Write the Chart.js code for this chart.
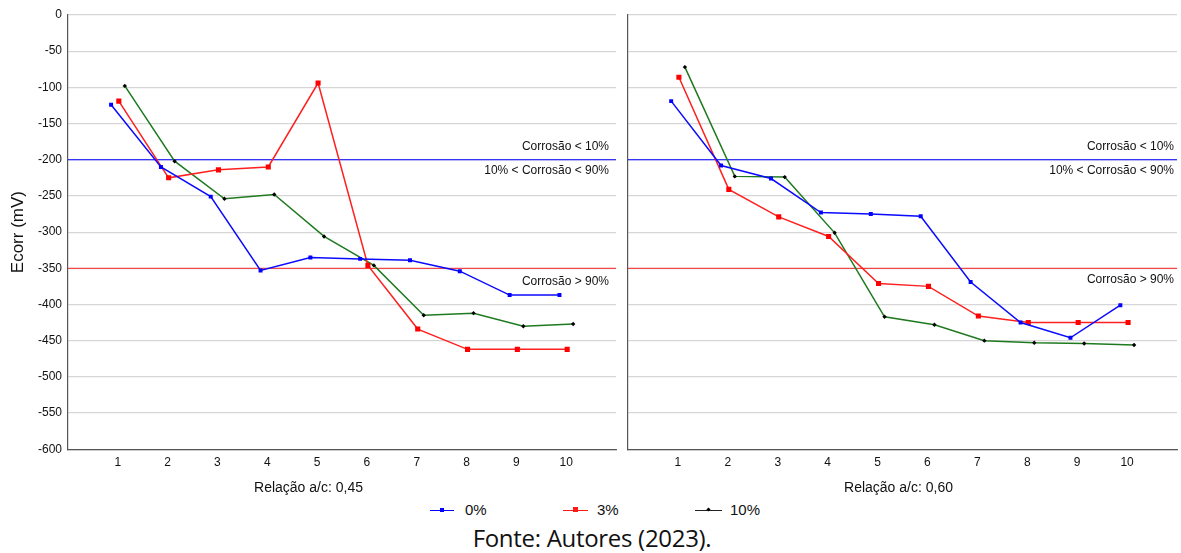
<!DOCTYPE html>
<html>
<head>
<meta charset="utf-8">
<script src="https://cdn.jsdelivr.net/npm/chart.js@4/dist/chart.umd.min.js"></script>
<style>
  html, body { margin: 0; padding: 0; background: #ffffff; }
  body { width: 1181px; height: 553px; position: relative; overflow: hidden; font-family: "Liberation Sans", Arial, sans-serif; }
  #c1 { position: absolute; left: 0; top: 0; }
  #c2 { position: absolute; left: 620px; top: 0; }
  .leg { position: absolute; top: 500px; height: 20px; font-size: 15px; line-height: 20px; color: #111; }
  .leg .ln { position: absolute; top: 10px; height: 1px; }
  .leg .mk { position: absolute; }
  .leg .tx { position: absolute; top: 0; white-space: nowrap; }
  #fonte { position: absolute; left: 0; width: 1184px; top: 526px; line-height: 24px; text-align: center; font-family: "Open Sans", "Noto Sans", sans-serif; font-size: 24px; letter-spacing: -0.3px; color: #111; }
</style>
</head>
<body>
<canvas id="c1" width="620" height="500"></canvas>
<canvas id="c2" width="561" height="500"></canvas>

<div class="leg" style="left:0;width:1181px;">
  <div class="ln" style="left:430px;width:24px;background:#0000ff;"></div>
  <div class="mk" style="left:440px;top:8px;width:4px;height:4px;background:#0000ff;"></div>
  <div class="tx" style="left:465px;">0%</div>
  <div class="ln" style="left:563px;width:25px;background:#ff1a1a;"></div>
  <div class="mk" style="left:573px;top:7px;width:5px;height:5px;background:#ff1a1a;"></div>
  <div class="tx" style="left:597px;">3%</div>
  <div class="ln" style="left:695px;width:27px;background:#222;"></div>
  <div class="mk" style="left:707px;top:8px;width:3px;height:3px;background:#000;transform:rotate(45deg);"></div>
  <div class="tx" style="left:730px;">10%</div>
</div>
<div id="fonte">Fonte: Autores (2023).</div>

<script>
// ---- data ----
const categories = [1, 2, 3, 4, 5, 6, 7, 8, 9, 10];
const yTicks = [0, -50, -100, -150, -200, -250, -300, -350, -400, -450, -500, -550, -600];
const seriesNames = ["0%", "3%", "10%"];
const thresholds = [-200, -350];

// Relação a/c 0,45
const blue045 = [-124, -210, -251, -353, -335, -337, -339, -354, -387, -387];
const red045 = [-119, -225, -214, -210, -94, -346, -434, -462, -462, -462];
const green045 = [-98, -202, -254, -248, -306, -346, -415, -412, -430, -427];

// Relação a/c 0,60
const blue060 = [-119, -208, -226, -273, -275, -278, -369, -425, -446, -401];
const red060 = [-86, -241, -279, -306, -371, -375, -416, -425, -425, -425];
const green060 = [-72, -223, -224, -301, -417, -428, -450, -453, -454, -456];

const xTitles = ["Relação a/c: 0,45", "Relação a/c: 0,60"];
const zoneLabels = ["Corrosão < 10%", "10% < Corrosão < 90%", "Corrosão > 90%"];

// ---- helpers ----
const FONT = "'Liberation Sans', Arial, sans-serif";

function pts(vals, shift) {
  return categories.map((c, i) => ({ x: c + shift, y: vals[i] }));
}

function seriesDatasets(b, r, g) {
  return [
    { label: seriesNames[0], data: pts(b, -0.135), borderColor: "#0a0aff", backgroundColor: "#0a0aff",
      borderWidth: 1.5, pointStyle: "rect", pointRadius: 2.8, pointBorderWidth: 0, pointBackgroundColor: "#0000ff" },
    { label: seriesNames[1], data: pts(r, 0.02), borderColor: "#ff2020", backgroundColor: "#ff1010",
      borderWidth: 1.5, pointStyle: "rect", pointRadius: 3.6, pointBorderWidth: 0, pointBackgroundColor: "#ff0000" },
    { label: seriesNames[2], data: pts(g, 0.14), borderColor: "#1f7a1f", backgroundColor: "#000",
      borderWidth: 1.5, pointStyle: "rectRot", pointRadius: 2.2, pointBorderWidth: 0, pointBackgroundColor: "#000" }
  ];
}

function thresholdDatasets() {
  return [
    { label: "t1", data: [{ x: 0, y: thresholds[0] }, { x: 11, y: thresholds[0] }], borderColor: "#0000ff",
      borderWidth: 1.2, pointRadius: 0, order: 5 },
    { label: "t2", data: [{ x: 0, y: thresholds[1] }, { x: 11, y: thresholds[1] }], borderColor: "#f04848",
      borderWidth: 1.2, pointRadius: 0, order: 5 }
  ];
}

const zonePlugin = {
  id: "zones",
  afterDatasetsDraw(chart, args, opts) {
    const { ctx, chartArea, scales } = chart;
    const y = scales.y;
    ctx.save();
    ctx.font = "12px " + FONT;
    ctx.fillStyle = "#111";
    ctx.textAlign = "right";
    ctx.textBaseline = "middle";
    const items = [
      { t: zoneLabels[0], v: thresholds[0], dy: -13 },
      { t: zoneLabels[1], v: thresholds[0], dy: 11 },
      { t: zoneLabels[2], v: thresholds[1], dy: opts.dy3 }
    ];
    items.forEach(it => {
      ctx.fillText(it.t, chartArea.right - opts.inset, y.getPixelForValue(it.v) + it.dy);
    });
    ctx.restore();
  }
};

function makeChart(id, b, r, g, title, showY, insets) {
  return new Chart(document.getElementById(id), {
    type: "line",
    data: { datasets: thresholdDatasets().concat(seriesDatasets(b, r, g)) },
    plugins: [zonePlugin],
    options: {
      responsive: false,
      animation: false,
      devicePixelRatio: 1,
      layout: { padding: { top: 15, right: insets.right, left: 0, bottom: 0 } },
      plugins: {
        legend: { display: false },
        tooltip: { enabled: false },
        title: { display: true, text: title, position: "bottom", color: "#111",
                 font: { family: FONT, size: 14, weight: "normal" }, padding: { top: 5, bottom: 3 } },
        zones: { inset: insets.label, dy3: insets.dy3 }
      },
      scales: {
        x: {
          type: "linear", min: 0, max: 11,
          afterFit(s) { s.height = 26; },
          afterBuildTicks(s) { s.ticks = categories.map(v => ({ value: v })); },
          ticks: { color: "#111", font: { family: FONT, size: 12 }, padding: 6, autoSkip: false,
                   maxRotation: 0 },
          grid: { display: true, drawOnChartArea: false, drawTicks: false, color: "rgba(0,0,0,0)" },
          border: { display: true, color: "#555", width: 1.2 }
        },
        y: {
          type: "linear", min: -600, max: 0,
          afterFit(s) { s.width = showY ? 68 : 8; },
          afterBuildTicks(s) { s.ticks = yTicks.map(v => ({ value: v })); },
          ticks: { display: showY, color: "#111", font: { family: FONT, size: 12 }, padding: 6 },
          title: { display: showY, text: "Ecorr (mV)", color: "#111", font: { family: FONT, size: 17 },
                   padding: { top: 8, bottom: 0 } },
          grid: { color: "#d6d6d6", lineWidth: 1.2, drawTicks: false },
          border: { display: true, color: "#555", width: 1.2 }
        }
      }
    }
  });
}

makeChart("c1", blue045, red045, green045, xTitles[0], true, { right: 3, label: 7, dy3: 13 });
makeChart("c2", blue060, red060, green060, xTitles[1], false, { right: 4, label: 3, dy3: 11 });
</script>
</body>
</html>
